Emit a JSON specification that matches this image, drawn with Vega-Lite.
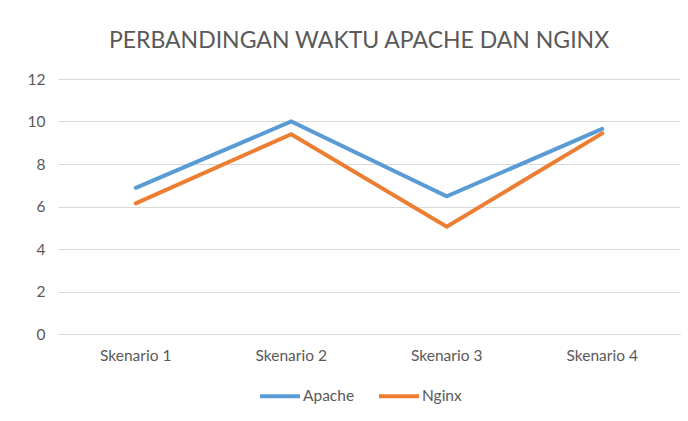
{
  "$schema": "https://vega.github.io/schema/vega-lite/v6.json",
  "width": 622,
  "height": 255,
  "autosize": {"type": "none"},
  "padding": {"left": 58, "top": 79, "right": 8, "bottom": 87},
  "background": "white",
  "title": {
    "text": "PERBANDINGAN WAKTU APACHE DAN NGINX",
    "font": "Lato",
    "fontSize": 23,
    "fontWeight": "normal",
    "color": "#595959",
    "anchor": "middle",
    "dx": -10,
    "offset": 19
  },
  "data": {
    "values": [
      {"skenario": "Skenario 1", "server": "Apache", "waktu": 6.88},
      {"skenario": "Skenario 2", "server": "Apache", "waktu": 10.0},
      {"skenario": "Skenario 3", "server": "Apache", "waktu": 6.48},
      {"skenario": "Skenario 4", "server": "Apache", "waktu": 9.65},
      {"skenario": "Skenario 1", "server": "Nginx", "waktu": 6.15},
      {"skenario": "Skenario 2", "server": "Nginx", "waktu": 9.4},
      {"skenario": "Skenario 3", "server": "Nginx", "waktu": 5.05},
      {"skenario": "Skenario 4", "server": "Nginx", "waktu": 9.44}
    ]
  },
  "mark": {"type": "line", "strokeWidth": 4, "strokeCap": "round", "strokeJoin": "miter"},
  "encoding": {
    "x": {
      "field": "skenario",
      "type": "nominal",
      "scale": {"type": "band", "paddingInner": 0, "paddingOuter": 0},
      "axis": {
        "title": null,
        "labelAngle": 0,
        "ticks": false,
        "domainColor": "#D9D9D9",
        "domainWidth": 1,
        "labelPadding": 14,
        "labelFont": "Lato",
        "labelFontSize": 15.5,
        "labelColor": "#595959"
      }
    },
    "y": {
      "field": "waktu",
      "type": "quantitative",
      "scale": {"domain": [0, 12]},
      "axis": {
        "title": null,
        "values": [0, 2, 4, 6, 8, 10, 12],
        "ticks": false,
        "domain": false,
        "gridColor": "#D9D9D9",
        "gridWidth": 1,
        "labelPadding": 13,
        "labelFont": "Lato",
        "labelFontSize": 15.5,
        "labelColor": "#595959"
      }
    },
    "color": {
      "field": "server",
      "type": "nominal",
      "scale": {"domain": ["Apache", "Nginx"], "range": ["#5B9BD5", "#ED7D31"]},
      "legend": {
        "title": null,
        "orient": "none",
        "legendX": 200,
        "legendY": 295,
        "direction": "horizontal",
        "symbolType": "stroke",
        "symbolSize": 1600,
        "symbolStrokeWidth": 4,
        "labelFont": "Lato",
        "labelFontSize": 15.5,
        "labelColor": "#595959",
        "labelOffset": 1,
        "columnPadding": 16
      }
    }
  },
  "config": {
    "view": {"stroke": null}
  }
}
